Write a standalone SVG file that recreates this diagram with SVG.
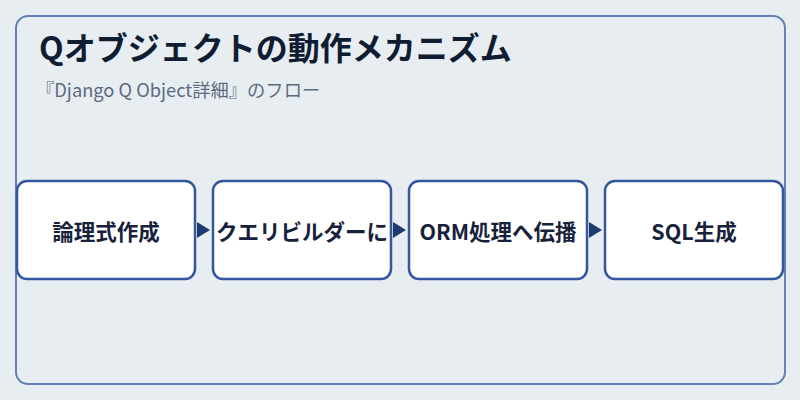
<svg xmlns="http://www.w3.org/2000/svg" width="800" height="400" viewBox="0 0 800 400">
<defs>
<style>
.frame{fill:#e8edf2;stroke:#6680b0;stroke-width:2}
.box{fill:#ffffff;stroke:#3457a0;stroke-width:2.5}
.lbl{font-family:"Noto Sans CJK JP","Noto Sans",sans-serif;font-size:21.5px;font-weight:bold;fill:#17223a;text-anchor:middle;dominant-baseline:central}
.title{font-family:"Noto Sans CJK JP","Noto Sans",sans-serif;font-size:32px;font-weight:bold;fill:#0f1d33}
.sub{font-family:"Noto Sans CJK JP","Noto Sans",sans-serif;font-size:18.3px;fill:#5a6b80}
.arrow{fill:#1e3a70}
</style>
</defs>
<rect width="800" height="400" fill="#e8edf2"/>
<rect class="frame" x="16" y="16" width="769" height="368" rx="12"/>
<text class="title" x="39" y="60">Qオブジェクトの動作メカニズム</text>
<text class="sub" x="36" y="97">『Django Q Object詳細』のフロー</text>
<g id="connectors">
<polygon class="arrow" points="197,222 210,230 197,238"/>
<polygon class="arrow" points="393,222 406,230 393,238"/>
<polygon class="arrow" points="589,222 602,230 589,238"/>
</g>
<g id="node1">
<rect class="box" x="17" y="181" width="178" height="98" rx="10"/>
<text class="lbl" x="106" y="230">論理式作成</text>
</g>
<g id="node2">
<rect class="box" x="213" y="181" width="178" height="98" rx="10"/>
<text class="lbl" x="302" y="230">クエリビルダーに</text>
</g>
<g id="node3">
<rect class="box" x="409" y="181" width="178" height="98" rx="10"/>
<text class="lbl" x="498" y="230">ORM処理へ伝播</text>
</g>
<g id="node4">
<rect class="box" x="605" y="181" width="178" height="98" rx="10"/>
<text class="lbl" x="694" y="230">SQL生成</text>
</g>
</svg>
